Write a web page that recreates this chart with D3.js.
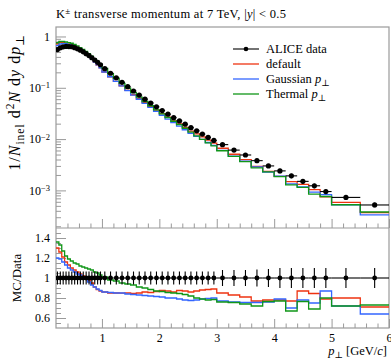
<!DOCTYPE html>
<html>
<head>
<meta charset="utf-8">
<script src="https://cdn.jsdelivr.net/npm/d3@7"></script>
<style>
  body { margin: 0; background: #fff; }
  text { font-family: "Liberation Serif", "DejaVu Serif", serif; fill: #000; }
</style>
</head>
<body>
<svg id="chart" width="391" height="359"></svg>
<script>
// pT bin edges [GeV/c]
const binEdges = [
  0.20, 0.25, 0.30, 0.35, 0.40, 0.45, 0.50, 0.55, 0.60, 0.65, 0.70, 0.75, 0.80, 0.85, 0.90, 0.95, 1.00,
  1.10, 1.20, 1.30, 1.40, 1.50, 1.60, 1.70, 1.80, 1.90, 2.00,
  2.10, 2.20, 2.30, 2.40, 2.50, 2.60, 2.70, 2.80, 2.90, 3.00,
  3.20, 3.40, 3.60, 3.80, 4.00, 4.20, 4.40, 4.60, 4.80, 5.00,
  5.50, 6.00
];

// ALICE K± yields, 1/N_inel d2N/dy dpT
const aliceData = [
  0.555, 0.600, 0.628, 0.640, 0.636, 0.630, 0.606, 0.575, 0.541, 0.502, 0.463, 0.424, 0.385, 0.348, 0.313, 0.281,
  0.236, 0.192, 0.157, 0.128, 0.105, 0.0865, 0.0720, 0.0600, 0.0505, 0.0425,
  0.0360, 0.0306, 0.0262, 0.0226, 0.0195, 0.0167, 0.0145, 0.0125, 0.0108, 0.0094,
  0.0078, 0.0061, 0.0049, 0.0038, 0.0030, 0.0024, 0.00192, 0.00150, 0.00123, 0.00095,
  0.00073, 0.00052
];

// relative uncertainty of the ALICE points
const aliceRelErr = [
  0.065, 0.065, 0.065, 0.065, 0.065, 0.065, 0.065, 0.065, 0.065, 0.065, 0.065, 0.065, 0.065, 0.065, 0.065, 0.065,
  0.065, 0.065, 0.065, 0.065, 0.065, 0.065, 0.065, 0.065, 0.065, 0.065,
  0.065, 0.065, 0.065, 0.065, 0.065, 0.065, 0.065, 0.065, 0.065, 0.065,
  0.08, 0.08, 0.08, 0.085, 0.09, 0.10, 0.10, 0.10, 0.10, 0.10,
  0.10, 0.10
];

// MC / data for the three generator settings
const ratioDefault = [
  1.30, 1.26, 1.21, 1.16, 1.13, 1.10, 1.08, 1.06, 1.04, 1.02, 1.00, 0.98, 0.95, 0.91, 0.885, 0.87,
  0.86, 0.85, 0.85, 0.848, 0.85, 0.845, 0.85, 0.86, 0.855, 0.865,
  0.875, 0.87, 0.86, 0.875, 0.87, 0.86, 0.87, 0.88, 0.885, 0.89,
  0.85, 0.83, 0.81, 0.77, 0.78, 0.78, 0.77, 0.87, 0.845, 0.79,
  0.80, 0.71
];
const ratioGaussian = [
  1.20, 1.19, 1.16, 1.13, 1.10, 1.08, 1.06, 1.04, 1.03, 1.01, 0.99, 0.96, 0.93, 0.91, 0.89, 0.875,
  0.86, 0.855, 0.85, 0.85, 0.84, 0.835, 0.83, 0.825, 0.82, 0.815,
  0.81, 0.80, 0.80, 0.79, 0.78, 0.775, 0.78, 0.79, 0.795, 0.80,
  0.77, 0.76, 0.755, 0.755, 0.76, 0.79, 0.70, 0.78, 0.75, 0.87,
  0.72, 0.64
];
const ratioThermal = [
  1.36, 1.33, 1.27, 1.22, 1.19, 1.17, 1.15, 1.14, 1.12, 1.11, 1.10, 1.09, 1.08, 1.06, 1.05, 1.03,
  1.01, 0.98, 0.97, 0.95, 0.94, 0.93, 0.91, 0.90, 0.885, 0.87,
  0.865, 0.855, 0.85, 0.845, 0.835, 0.82, 0.80, 0.79, 0.78, 0.785,
  0.76, 0.755, 0.74, 0.72, 0.765, 0.77, 0.67, 0.765, 0.69, 0.80,
  0.72, 0.73
];

const xTickValues = [1, 2, 3, 4, 5, 6];
const yMainTickValues = [1e-3, 1e-2, 1e-1, 1];
const yMainTickLabels = [["10", "\u22123"], ["10", "\u22122"], ["10", "\u22121"], ["1", ""]];
const yRatioTickValues = [0.6, 0.8, 1.0, 1.2, 1.4];
const yRatioTickLabels = ["0.6", "0.8", "1", "1.2", "1.4"];

const mcSeries = [
  { name: "default",  sub: "",  ratio: ratioDefault,  color: "#EE3311" },
  { name: "Gaussian", sub: "p", ratio: ratioGaussian, color: "#3366FF" },
  { name: "Thermal",  sub: "p", ratio: ratioThermal,  color: "#109618" }
];

// panel geometry
const L = 56, R = 389, T = 27, MB = 228, RB = 328;
const frameColor = "#9a9a9a";
const serif = '"Liberation Serif", "DejaVu Serif", serif';

const svg = d3.select("#chart");

const x = d3.scaleLinear().domain([0.2, 6]).range([L, R]);
const yMain = d3.scaleLog().domain([1.85e-4, 1.53]).range([MB, T]);
const yRatio = d3.scaleLinear().domain([0.5, 1.5]).range([RB, MB]);

const centers = binEdges.slice(0, -1).map((e, i) => (e + binEdges[i + 1]) / 2);

// clip regions
const defs = svg.append("defs");
defs.append("clipPath").attr("id", "clipMain")
  .append("rect").attr("x", L).attr("y", T).attr("width", R - L).attr("height", MB - T);
defs.append("clipPath").attr("id", "clipRatio")
  .append("rect").attr("x", L).attr("y", MB).attr("width", R - L).attr("height", RB - MB);

function stepPoints(vals) {
  const pts = [];
  vals.forEach((v, i) => { pts.push([binEdges[i], v]); pts.push([binEdges[i + 1], v]); });
  return pts;
}

// ---------- axes / ticks ----------
function minorLogTicks() {
  const t = [];
  for (let k = -4; k <= 0; k++) for (let m = 2; m <= 9; m++) {
    const v = m * Math.pow(10, k);
    if (v > yMain.domain()[0] && v < yMain.domain()[1]) t.push(v);
  }
  return t;
}
const xMinor = d3.range(0.4, 6.0, 0.2).filter(v => Math.abs(v - Math.round(v)) > 1e-6);
const ratioMinor = d3.range(0.55, 1.5, 0.05).filter(v => Math.abs(v * 5 - Math.round(v * 5)) > 1e-6);

function styleAxis(g) {
  g.attr("font-family", serif);
  g.select(".domain").remove();
  g.selectAll(".tick line").attr("stroke", frameColor).attr("stroke-width", 1);
}

// main panel: y axis
svg.append("g").attr("transform", `translate(${L},0)`)
  .call(d3.axisLeft(yMain).tickValues(minorLogTicks()).tickSize(-5).tickFormat(""))
  .call(styleAxis);
const yMainAxis = svg.append("g").attr("transform", `translate(${L},0)`)
  .call(d3.axisLeft(yMain).tickValues(yMainTickValues).tickSize(-10).tickPadding(6).tickFormat(""))
  .call(styleAxis);
yMainAxis.selectAll(".tick text").each(function (d, i) {
  const t = d3.select(this).attr("font-size", 12);
  const lab = yMainTickLabels[i];
  t.text(null);
  t.append("tspan").text(lab[0]);
  if (lab[1]) t.append("tspan").attr("dy", "-0.45em").attr("font-size", 8.5).text(lab[1]);
});

// main panel: x ticks (no labels)
svg.append("g").attr("transform", `translate(0,${MB})`)
  .call(d3.axisBottom(x).tickValues(xMinor).tickSize(-4.5).tickFormat(""))
  .call(styleAxis);
svg.append("g").attr("transform", `translate(0,${MB})`)
  .call(d3.axisBottom(x).tickValues(xTickValues).tickSize(-9).tickFormat(""))
  .call(styleAxis);

// ratio panel: y axis
svg.append("g").attr("transform", `translate(${L},0)`)
  .call(d3.axisLeft(yRatio).tickValues(ratioMinor).tickSize(-5).tickFormat(""))
  .call(styleAxis);
svg.append("g").attr("transform", `translate(${L},0)`)
  .call(d3.axisLeft(yRatio).tickValues(yRatioTickValues).tickSize(-10).tickPadding(6)
    .tickFormat((d, i) => yRatioTickLabels[i]))
  .call(styleAxis)
  .selectAll(".tick text").attr("font-size", 12);

// ratio panel: x axis with labels
svg.append("g").attr("transform", `translate(0,${RB})`)
  .call(d3.axisBottom(x).tickValues(xMinor).tickSize(-4.5).tickFormat(""))
  .call(styleAxis);
svg.append("g").attr("transform", `translate(0,${RB})`)
  .call(d3.axisBottom(x).tickValues(xTickValues).tickSize(-9).tickPadding(5.5).tickFormat(d3.format("d")))
  .call(styleAxis)
  .selectAll(".tick text").attr("font-size", 12);

// frames
svg.append("rect").attr("x", L).attr("y", T).attr("width", R - L).attr("height", RB - T)
  .attr("fill", "none").attr("stroke", frameColor).attr("stroke-width", 1.2);
svg.append("line").attr("x1", L).attr("x2", R).attr("y1", MB).attr("y2", MB)
  .attr("stroke", frameColor).attr("stroke-width", 1.2);

// ---------- main panel ----------
const gMain = svg.append("g").attr("clip-path", "url(#clipMain)");
const lineMain = d3.line().x(d => x(d[0])).y(d => yMain(d[1]));
mcSeries.forEach(s => {
  const vals = aliceData.map((v, i) => v * s.ratio[i]);
  gMain.append("path").attr("d", lineMain(stepPoints(vals)))
    .attr("fill", "none").attr("stroke", s.color).attr("stroke-width", 1.3);
});
const dataG = gMain.append("g");
aliceData.forEach((v, i) => {
  dataG.append("line").attr("x1", x(binEdges[i])).attr("x2", x(binEdges[i + 1]))
    .attr("y1", yMain(v)).attr("y2", yMain(v)).attr("stroke", "#000").attr("stroke-width", 1.1);
  dataG.append("line").attr("x1", x(centers[i])).attr("x2", x(centers[i]))
    .attr("y1", yMain(v * (1 - aliceRelErr[i]))).attr("y2", yMain(v * (1 + aliceRelErr[i])))
    .attr("stroke", "#000").attr("stroke-width", 1.1);
  dataG.append("circle").attr("cx", x(centers[i])).attr("cy", yMain(v)).attr("r", 2.6).attr("fill", "#000");
});

// ---------- ratio panel ----------
const gRatio = svg.append("g").attr("clip-path", "url(#clipRatio)");
const lineRatio = d3.line().x(d => x(d[0])).y(d => yRatio(d[1]));
mcSeries.forEach(s => {
  gRatio.append("path").attr("d", lineRatio(stepPoints(s.ratio)))
    .attr("fill", "none").attr("stroke", s.color).attr("stroke-width", 1.3);
});
aliceData.forEach((v, i) => {
  gRatio.append("line").attr("x1", x(binEdges[i])).attr("x2", x(binEdges[i + 1]))
    .attr("y1", yRatio(1)).attr("y2", yRatio(1)).attr("stroke", "#000").attr("stroke-width", 1.1);
  gRatio.append("line").attr("x1", x(centers[i])).attr("x2", x(centers[i]))
    .attr("y1", yRatio(1 - aliceRelErr[i])).attr("y2", yRatio(1 + aliceRelErr[i]))
    .attr("stroke", "#000").attr("stroke-width", 1.1);
  gRatio.append("circle").attr("cx", x(centers[i])).attr("cy", yRatio(1)).attr("r", 2.4).attr("fill", "#000");
});

// ---------- legend ----------
const legendRows = [49, 64, 79, 94];
const lg = svg.append("g");
lg.append("line").attr("x1", 233).attr("x2", 259).attr("y1", legendRows[0]).attr("y2", legendRows[0])
  .attr("stroke", "#000").attr("stroke-width", 1.1);
lg.append("circle").attr("cx", 246).attr("cy", legendRows[0]).attr("r", 2.3).attr("fill", "#000");
lg.append("text").attr("x", 266).attr("y", legendRows[0] + 4).attr("font-size", 12.5).text("ALICE data");
mcSeries.forEach((s, k) => {
  const yy = legendRows[k + 1];
  lg.append("line").attr("x1", 233).attr("x2", 259).attr("y1", yy).attr("y2", yy)
    .attr("stroke", s.color).attr("stroke-width", 1.3);
  const t = lg.append("text").attr("x", 266).attr("y", yy + 4).attr("font-size", 12.5).text(s.name);
  if (s.sub) {
    t.append("tspan").text(" ");
    t.append("tspan").attr("font-style", "italic").text(s.sub);
    t.append("tspan").attr("dy", 3).attr("font-size", 9).text("\u22A5");
  }
});

// ---------- titles ----------
const title = svg.append("text").attr("x", 56).attr("y", 18)
  .attr("font-size", 12.5).attr("letter-spacing", 0.3);
title.append("tspan").text("K");
title.append("tspan").attr("dy", -4.5).attr("font-size", 9).text("\u00B1");
title.append("tspan").attr("dy", 4.5).text(" transverse momentum at 7 TeV, |");
title.append("tspan").attr("font-style", "italic").text("y");
title.append("tspan").text("| < 0.5");

const xl = svg.append("text").attr("x", 387).attr("y", 355).attr("text-anchor", "end").attr("font-size", 12.5);
xl.append("tspan").attr("font-style", "italic").text("p");
xl.append("tspan").attr("dy", 3).attr("font-size", 9).text("\u22A5");
xl.append("tspan").attr("dy", -3).text(" [GeV/");
xl.append("tspan").attr("font-style", "italic").text("c");
xl.append("tspan").text("]");

const yl = svg.append("text").attr("transform", "translate(20,34) rotate(-90)")
  .attr("text-anchor", "end").attr("font-size", 16).attr("letter-spacing", 1.0);
yl.append("tspan").text("1/");
yl.append("tspan").attr("font-style", "italic").text("N");
yl.append("tspan").attr("dy", 4).attr("font-size", 11.5).text("inel");
yl.append("tspan").attr("dy", -4).text(" d");
yl.append("tspan").attr("dy", -6.5).attr("font-size", 11.5).text("2");
yl.append("tspan").attr("dy", 6.5).attr("font-style", "italic").text("N");
yl.append("tspan").text(" d");
yl.append("tspan").attr("font-style", "italic").text("y");
yl.append("tspan").text(" d");
yl.append("tspan").attr("font-style", "italic").text("p");
yl.append("tspan").attr("dy", 4).attr("font-size", 11.5).text("\u22A5");

svg.append("text").attr("transform", "translate(21,278) rotate(-90)")
  .attr("text-anchor", "middle").attr("font-size", 13).text("MC/Data");
</script>
</body>
</html>
